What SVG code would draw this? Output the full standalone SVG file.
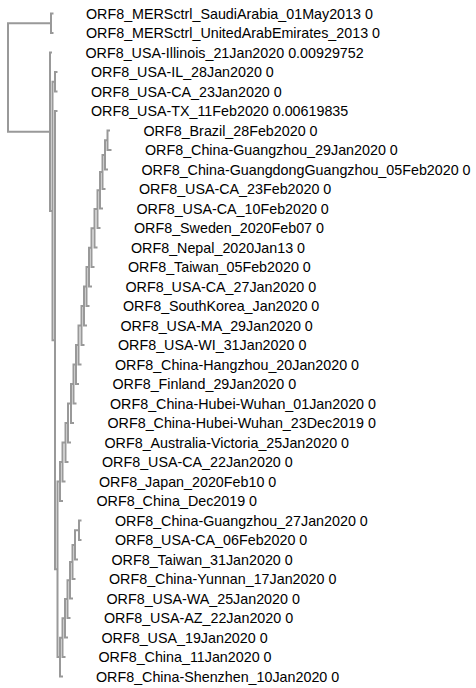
<svg xmlns="http://www.w3.org/2000/svg" width="476" height="688" viewBox="0 0 476 688">
<style>
.link{fill:none;stroke:#999;stroke-width:2}
text{font-family:"Liberation Sans",Arial,sans-serif;font-size:14.3px;fill:#000}
</style>
<rect width="476" height="688" fill="#fff"/>
<g id="connectors">
<path class="link" d="M8 77.48V23.25H51M8 77.48V131.7H50M51 23.25V13.5H53.5M51 23.25V33H53.5M50 131.7V52.5H52M50 131.7V210.95H52.5M52.5 210.95V81.75H55M52.5 210.95V340.15H55M55 81.75V72H57.5M55 81.75V91.5H57.5M55 340.15V111H57.5M55 340.15V569.29H57.5M57.5 569.29V481.5H60M57.5 569.29V657.08H60"/>
<path class="link" d="M60 481.5V462H62.5M60 481.5V501H63M62.5 462V442.5H65.5M62.5 462V481.5H65.5M65.5 442.5V423H68M65.5 442.5V462H68.5M68 423V403.5H71M68 423V442.5H71M71 403.5V384H73.5M71 403.5V423H74M73.5 384V364.5H76M73.5 384V403.5H76.5M76 364.5V345H78.5M76 364.5V384H79M78.5 345V325.51H81.5M78.5 345V364.5H81.5M81.5 325.51V306.02H84M81.5 325.51V345H84.5M84 306.02V286.54H86.5M84 306.02V325.5H87M86.5 286.54V267.08H89M86.5 286.54V306H89.5M89 267.08V247.65H91.5M89 267.08V286.5H92M91.5 247.65V228.3H94.5M91.5 247.65V267H94.5M94.5 228.3V209.11H97.5M94.5 228.3V247.5H97.5M97.5 209.11V190.22H100M97.5 209.11V228H100.5M100 190.22V171.94H102.5M100 190.22V208.5H103M102.5 171.94V154.88H105M102.5 171.94V189H105.5M105 154.88V140.25H107.5M105 154.88V169.5H108M107.5 140.25V130.5H110M107.5 140.25V150H111.5"/>
<path class="link" d="M60 657.08V637.65H62.5M60 657.08V676.5H63M62.5 637.65V618.3H65M62.5 637.65V657H65.5M65 618.3V599.11H67.5M65 618.3V637.5H68M67.5 599.11V580.22H70M67.5 599.11V618H70.5M70 580.22V561.94H72.5M70 580.22V598.5H73M72.5 561.94V544.88H75M72.5 561.94V579H75.5M75 544.88V530.25H79M75 544.88V559.5H78M79 530.25V520.5H81.5M79 530.25V540H81.5"/>
</g>
<g id="n0"><text x="86" y="18.5">ORF8_MERSctrl_SaudiArabia_01May2013 0</text></g>
<g id="n1"><text x="86" y="38">ORF8_MERSctrl_UnitedArabEmirates_2013 0</text></g>
<g id="n2"><text x="85.5" y="57.5">ORF8_USA-Illinois_21Jan2020 0.00929752</text></g>
<g id="n3"><text x="91" y="77">ORF8_USA-IL_28Jan2020 0</text></g>
<g id="n4"><text x="91" y="96.5">ORF8_USA-CA_23Jan2020 0</text></g>
<g id="n5"><text x="91" y="116">ORF8_USA-TX_11Feb2020 0.00619835</text></g>
<g id="n6"><text x="143.5" y="135.5">ORF8_Brazil_28Feb2020 0</text></g>
<g id="n7"><text x="145" y="155">ORF8_China-Guangzhou_29Jan2020 0</text></g>
<g id="n8"><text x="141.5" y="174.5">ORF8_China-GuangdongGuangzhou_05Feb2020 0</text></g>
<g id="n9"><text x="139" y="194">ORF8_USA-CA_23Feb2020 0</text></g>
<g id="n10"><text x="136.5" y="213.5">ORF8_USA-CA_10Feb2020 0</text></g>
<g id="n11"><text x="134" y="233">ORF8_Sweden_2020Feb07 0</text></g>
<g id="n12"><text x="131" y="252.5">ORF8_Nepal_2020Jan13 0</text></g>
<g id="n13"><text x="128" y="272">ORF8_Taiwan_05Feb2020 0</text></g>
<g id="n14"><text x="125.5" y="291.5">ORF8_USA-CA_27Jan2020 0</text></g>
<g id="n15"><text x="123" y="311">ORF8_SouthKorea_Jan2020 0</text></g>
<g id="n16"><text x="120.5" y="330.5">ORF8_USA-MA_29Jan2020 0</text></g>
<g id="n17"><text x="118" y="350">ORF8_USA-WI_31Jan2020 0</text></g>
<g id="n18"><text x="115" y="369.5">ORF8_China-Hangzhou_20Jan2020 0</text></g>
<g id="n19"><text x="112.5" y="389">ORF8_Finland_29Jan2020 0</text></g>
<g id="n20"><text x="110" y="408.5">ORF8_China-Hubei-Wuhan_01Jan2020 0</text></g>
<g id="n21"><text x="107.5" y="428">ORF8_China-Hubei-Wuhan_23Dec2019 0</text></g>
<g id="n22"><text x="104.5" y="447.5">ORF8_Australia-Victoria_25Jan2020 0</text></g>
<g id="n23"><text x="102" y="467">ORF8_USA-CA_22Jan2020 0</text></g>
<g id="n24"><text x="99" y="486.5">ORF8_Japan_2020Feb10 0</text></g>
<g id="n25"><text x="96.5" y="506">ORF8_China_Dec2019 0</text></g>
<g id="n26"><text x="115" y="525.5">ORF8_China-Guangzhou_27Jan2020 0</text></g>
<g id="n27"><text x="115" y="545">ORF8_USA-CA_06Feb2020 0</text></g>
<g id="n28"><text x="111.5" y="564.5">ORF8_Taiwan_31Jan2020 0</text></g>
<g id="n29"><text x="109" y="584">ORF8_China-Yunnan_17Jan2020 0</text></g>
<g id="n30"><text x="106.5" y="603.5">ORF8_USA-WA_25Jan2020 0</text></g>
<g id="n31"><text x="104" y="623">ORF8_USA-AZ_22Jan2020 0</text></g>
<g id="n32"><text x="101.5" y="642.5">ORF8_USA_19Jan2020 0</text></g>
<g id="n33"><text x="98.5" y="662">ORF8_China_11Jan2020 0</text></g>
<g id="n34"><text x="96" y="681.5">ORF8_China-Shenzhen_10Jan2020 0</text></g>
</svg>
